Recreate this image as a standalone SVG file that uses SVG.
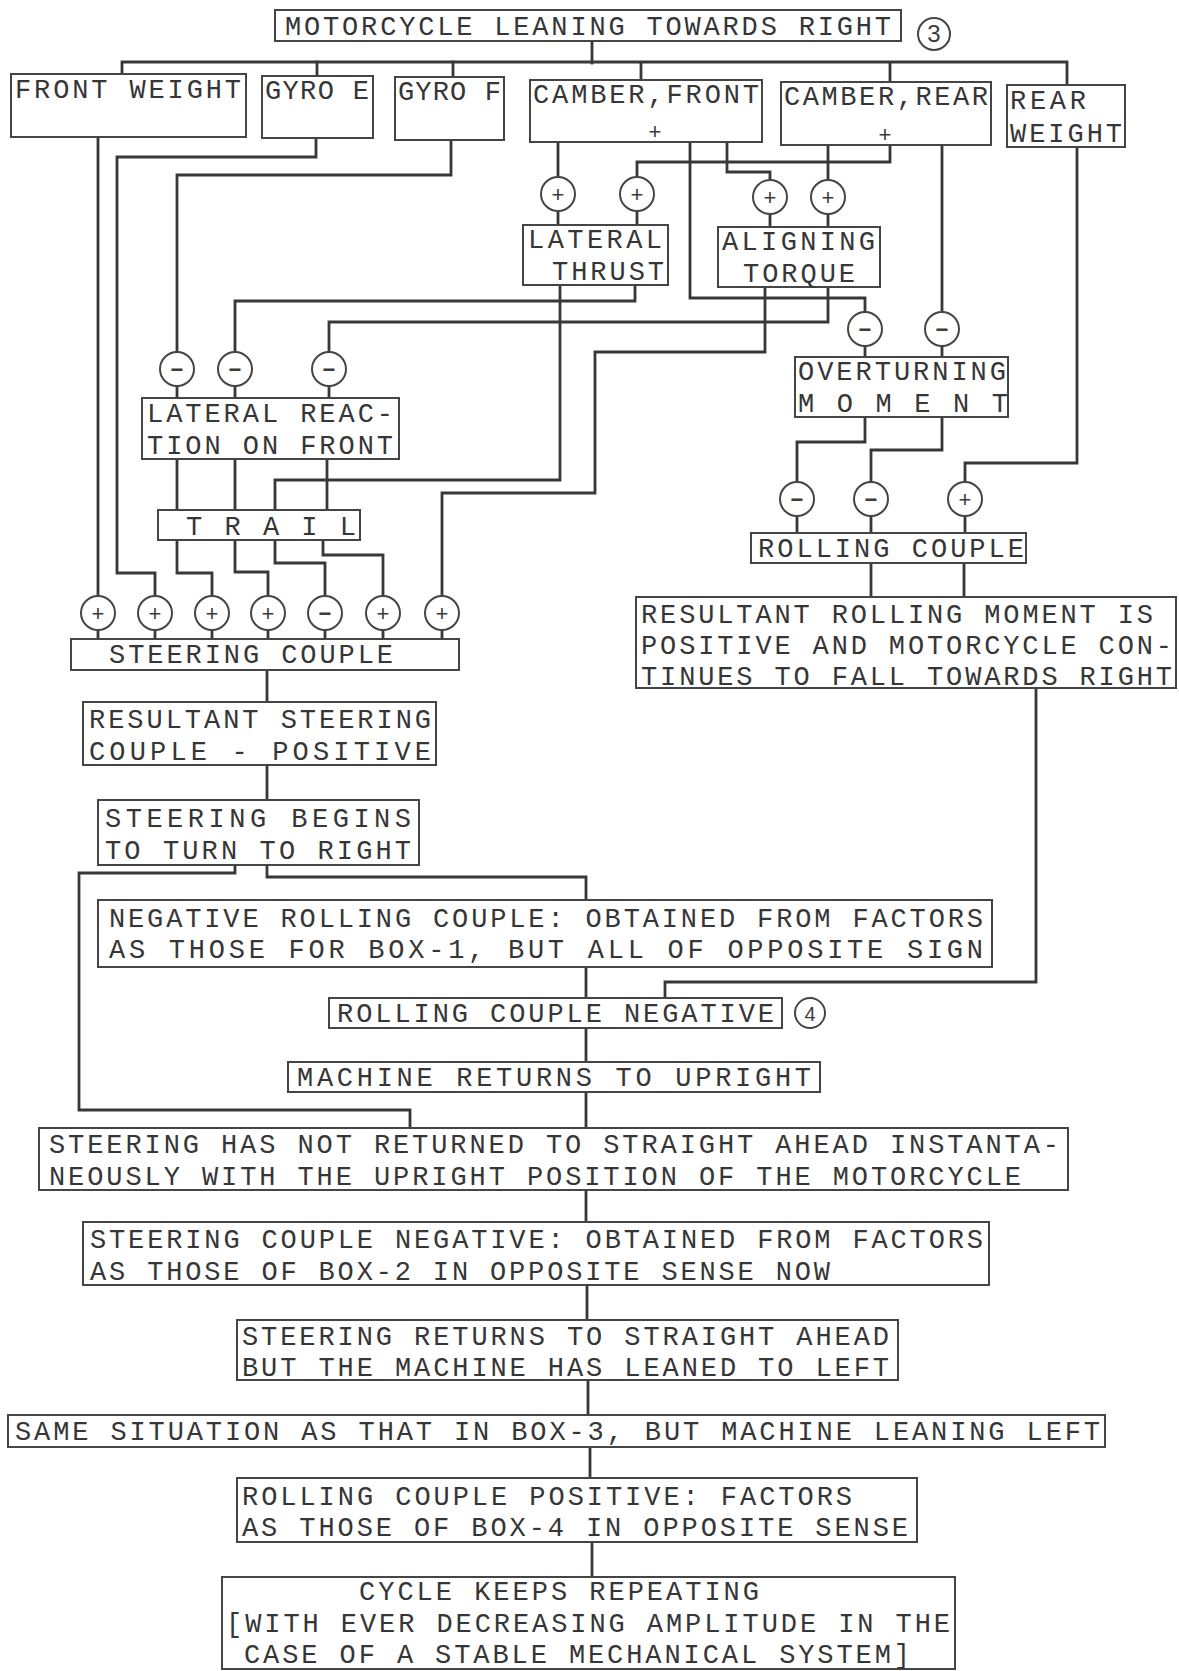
<svg xmlns="http://www.w3.org/2000/svg" width="1179" height="1671" viewBox="0 0 1179 1671">
<style>
.bg{fill:#ffffff}
.b{fill:#ffffff;stroke:#454545;stroke-width:2}
.w{fill:none;stroke:#383838;stroke-width:2.8;stroke-linejoin:miter;stroke-linecap:square}
.t{font-family:"Liberation Mono","DejaVu Sans Mono",monospace;font-size:27px;fill:#363636}
.c{fill:#ffffff;stroke:#454545;stroke-width:2}
.s{font-family:"Liberation Sans","DejaVu Sans",sans-serif;font-size:22px;fill:#3c3c3c;text-anchor:middle}
.m{font-family:"Liberation Sans","DejaVu Sans",sans-serif;font-size:22px;font-weight:bold;fill:#3c3c3c;text-anchor:middle}
.h{font-family:"Liberation Sans","DejaVu Sans",sans-serif;font-size:24px;fill:#3c3c3c;text-anchor:middle}
</style>
<rect class="bg" x="0" y="0" width="1179" height="1671"/>
<g id="connectors">
<path class="w" d="M592,41 V63"/>
<path class="w" d="M122,74 V62 H1067 V85"/>
<path class="w" d="M317,62 V76"/>
<path class="w" d="M453,62 V77"/>
<path class="w" d="M641,63 V80"/>
<path class="w" d="M890,64 V82"/>
<path class="w" d="M98,137 V596"/>
<path class="w" d="M316,138 V157 H117 V573 H155 V596"/>
<path class="w" d="M451,140 V175 H177 V352"/>
<path class="w" d="M558,142 V177"/>
<path class="w" d="M558,211 V225"/>
<path class="w" d="M890,145 V162 H637 V177"/>
<path class="w" d="M637,211 V225"/>
<path class="w" d="M727,142 V172 H770 V180"/>
<path class="w" d="M770,214 V227"/>
<path class="w" d="M828,145 V180"/>
<path class="w" d="M828,214 V227"/>
<path class="w" d="M690,142 V298 H865 V312"/>
<path class="w" d="M942,145 V312"/>
<path class="w" d="M635,285 V301 H235 V352"/>
<path class="w" d="M560,285 V480 H275 V510"/>
<path class="w" d="M828,287 V322 H329 V352"/>
<path class="w" d="M765,287 V352 H595 V493 H442 V596"/>
<path class="w" d="M177,386 V398 M235,386 V398 M329,386 V398"/>
<path class="w" d="M177,459 V510 M235,459 V510 M327,459 V510"/>
<path class="w" d="M177,540 V573 H212 V596"/>
<path class="w" d="M235,540 V572 H268 V596"/>
<path class="w" d="M275,540 V563 H325 V596"/>
<path class="w" d="M323,540 V555 H383 V596"/>
<path class="w" d="M98,630 V639 M155,630 V639 M212,630 V639 M268,630 V639 M325,630 V639 M383,630 V639 M442,630 V639"/>
<path class="w" d="M865,346 V357 M942,346 V357"/>
<path class="w" d="M865,417 V442 H797 V482"/>
<path class="w" d="M942,417 V450 H871 V482"/>
<path class="w" d="M1077,147 V463 H965 V482"/>
<path class="w" d="M797,516 V533 M871,516 V533 M965,516 V533"/>
<path class="w" d="M871,563 V597 M964,563 V597"/>
<path class="w" d="M267,670 V702"/>
<path class="w" d="M267,765 V800"/>
<path class="w" d="M235,865 V873 H79 V1110 H410 V1128"/>
<path class="w" d="M267,865 V877 H586 V900"/>
<path class="w" d="M586,967 V998"/>
<path class="w" d="M1036,688 V982 H665 V998"/>
<path class="w" d="M586,1028 V1062"/>
<path class="w" d="M586,1092 V1128"/>
<path class="w" d="M586,1190 V1222"/>
<path class="w" d="M587,1285 V1320"/>
<path class="w" d="M588,1380 V1415"/>
<path class="w" d="M590,1447 V1478"/>
<path class="w" d="M592,1542 V1577"/>
</g>
<g id="n-title">
<rect class="b" x="275" y="10" width="626" height="31"/>
<text class="t" x="285" y="35" textLength="606" lengthAdjust="spacing">MOTORCYCLE LEANING TOWARDS RIGHT</text>
<circle class="c" cx="934" cy="34" r="16"/>
<text class="h" x="934" y="42">3</text>
</g>
<g id="n-front-weight">
<rect class="b" x="11" y="74" width="235" height="63"/>
<text class="t" x="15" y="98" textLength="226" lengthAdjust="spacing">FRONT WEIGHT</text>
</g>
<g id="n-gyro-e">
<rect class="b" x="262" y="76" width="111" height="62"/>
<text class="t" x="265" y="99" textLength="104" lengthAdjust="spacing">GYRO E</text>
</g>
<g id="n-gyro-f">
<rect class="b" x="395" y="77" width="109" height="63"/>
<text class="t" x="398" y="100" textLength="103" lengthAdjust="spacing">GYRO F</text>
</g>
<g id="n-camber-front">
<rect class="b" x="530" y="80" width="232" height="62"/>
<text class="t" x="533" y="103" textLength="226" lengthAdjust="spacing">CAMBER,FRONT</text>
<text class="s" x="655" y="139">+</text>
</g>
<g id="n-camber-rear">
<rect class="b" x="781" y="82" width="210" height="63"/>
<text class="t" x="784" y="105" textLength="204" lengthAdjust="spacing">CAMBER,REAR</text>
<text class="s" x="885" y="142">+</text>
</g>
<g id="n-rear-weight">
<rect class="b" x="1007" y="85" width="118" height="62"/>
<text class="t" x="1010" y="109" textLength="76" lengthAdjust="spacing">REAR</text>
<text class="t" x="1010" y="142" textLength="112" lengthAdjust="spacing">WEIGHT</text>
</g>
<g id="sum-lt-1"><circle class="c" cx="558" cy="194" r="17"/><text class="s" x="558" y="202">+</text></g>
<g id="sum-lt-2"><circle class="c" cx="637" cy="194" r="17"/><text class="s" x="637" y="202">+</text></g>
<g id="sum-at-1"><circle class="c" cx="770" cy="197" r="17"/><text class="s" x="770" y="205">+</text></g>
<g id="sum-at-2"><circle class="c" cx="828" cy="197" r="17"/><text class="s" x="828" y="205">+</text></g>
<g id="n-lateral-thrust">
<rect class="b" x="523" y="225" width="145" height="60"/>
<text class="t" x="528" y="248" textLength="134" lengthAdjust="spacing">LATERAL</text>
<text class="t" x="552" y="280" textLength="112" lengthAdjust="spacing">THRUST</text>
</g>
<g id="n-aligning-torque">
<rect class="b" x="718" y="227" width="162" height="60"/>
<text class="t" x="722" y="250" textLength="153" lengthAdjust="spacing">ALIGNING</text>
<text class="t" x="743" y="282" textLength="112" lengthAdjust="spacing">TORQUE</text>
</g>
<g id="sum-lr-1"><circle class="c" cx="177" cy="369" r="17"/><text class="m" x="177" y="377">−</text></g>
<g id="sum-lr-2"><circle class="c" cx="235" cy="369" r="17"/><text class="m" x="235" y="377">−</text></g>
<g id="sum-lr-3"><circle class="c" cx="329" cy="369" r="17"/><text class="m" x="329" y="377">−</text></g>
<g id="n-lateral-reaction">
<rect class="b" x="142" y="398" width="257" height="61"/>
<text class="t" x="147" y="422" textLength="246" lengthAdjust="spacing">LATERAL REAC-</text>
<text class="t" x="147" y="454" textLength="246" lengthAdjust="spacing">TION ON FRONT</text>
</g>
<g id="n-trail">
<rect class="b" x="158" y="510" width="202" height="30"/>
<text class="t" x="186" y="535" textLength="170" lengthAdjust="spacing">T R A I L</text>
</g>
<g id="sum-om-1"><circle class="c" cx="865" cy="329" r="17"/><text class="m" x="865" y="337">−</text></g>
<g id="sum-om-2"><circle class="c" cx="942" cy="329" r="17"/><text class="m" x="942" y="337">−</text></g>
<g id="n-overturning-moment">
<rect class="b" x="795" y="357" width="213" height="60"/>
<text class="t" x="798" y="380" textLength="208" lengthAdjust="spacing">OVERTURNING</text>
<text class="t" x="798" y="412" textLength="210" lengthAdjust="spacing">M O M E N T</text>
</g>
<g id="sum-rc-1"><circle class="c" cx="797" cy="499" r="17"/><text class="m" x="797" y="507">−</text></g>
<g id="sum-rc-2"><circle class="c" cx="871" cy="499" r="17"/><text class="m" x="871" y="507">−</text></g>
<g id="sum-rc-3"><circle class="c" cx="965" cy="499" r="17"/><text class="s" x="965" y="507">+</text></g>
<g id="n-rolling-couple">
<rect class="b" x="751" y="533" width="275" height="30"/>
<text class="t" x="758" y="557" textLength="266" lengthAdjust="spacing">ROLLING COUPLE</text>
</g>
<g id="n-resultant-rolling">
<rect class="b" x="636" y="597" width="540" height="91"/>
<text class="t" x="641" y="623" textLength="512" lengthAdjust="spacing">RESULTANT ROLLING MOMENT IS</text>
<text class="t" x="641" y="654" textLength="531" lengthAdjust="spacing">POSITIVE AND MOTORCYCLE CON-</text>
<text class="t" x="641" y="685" textLength="531" lengthAdjust="spacing">TINUES TO FALL TOWARDS RIGHT</text>
</g>
<g id="sum-sc-1"><circle class="c" cx="98" cy="613" r="17"/><text class="s" x="98" y="621">+</text></g>
<g id="sum-sc-2"><circle class="c" cx="155" cy="613" r="17"/><text class="s" x="155" y="621">+</text></g>
<g id="sum-sc-3"><circle class="c" cx="212" cy="613" r="17"/><text class="s" x="212" y="621">+</text></g>
<g id="sum-sc-4"><circle class="c" cx="268" cy="613" r="17"/><text class="s" x="268" y="621">+</text></g>
<g id="sum-sc-5"><circle class="c" cx="325" cy="613" r="17"/><text class="m" x="325" y="621">−</text></g>
<g id="sum-sc-6"><circle class="c" cx="383" cy="613" r="17"/><text class="s" x="383" y="621">+</text></g>
<g id="sum-sc-7"><circle class="c" cx="442" cy="613" r="17"/><text class="s" x="442" y="621">+</text></g>
<g id="n-steering-couple">
<rect class="b" x="71" y="639" width="388" height="31"/>
<text class="t" x="109" y="663" textLength="284" lengthAdjust="spacing">STEERING COUPLE</text>
</g>
<g id="n-resultant-steering">
<rect class="b" x="83" y="702" width="353" height="63"/>
<text class="t" x="89" y="728" textLength="342" lengthAdjust="spacing">RESULTANT STEERING</text>
<text class="t" x="89" y="760" textLength="342" lengthAdjust="spacing">COUPLE -  POSITIVE</text>
</g>
<g id="n-steering-begins">
<rect class="b" x="98" y="800" width="321" height="65"/>
<text class="t" x="105" y="827" textLength="306" lengthAdjust="spacing">STEERING  BEGINS</text>
<text class="t" x="105" y="859" textLength="306" lengthAdjust="spacing">TO TURN TO RIGHT</text>
</g>
<g id="n-negative-rolling">
<rect class="b" x="98" y="900" width="894" height="67"/>
<text class="t" x="109" y="927" textLength="874" lengthAdjust="spacing">NEGATIVE ROLLING COUPLE: OBTAINED FROM FACTORS</text>
<text class="t" x="109" y="958" textLength="874" lengthAdjust="spacing">AS THOSE  FOR  BOX-1, BUT ALL OF OPPOSITE SIGN</text>
</g>
<g id="n-rolling-negative">
<rect class="b" x="329" y="998" width="453" height="30"/>
<text class="t" x="337" y="1022" textLength="437" lengthAdjust="spacing">ROLLING COUPLE NEGATIVE</text>
<circle class="c" cx="810" cy="1013" r="15"/>
<text class="h" x="810" y="1021" style="font-size:20px">4</text>
</g>
<g id="n-machine-returns">
<rect class="b" x="288" y="1062" width="532" height="30"/>
<text class="t" x="297" y="1086" textLength="514" lengthAdjust="spacing">MACHINE RETURNS TO  UPRIGHT</text>
</g>
<g id="n-steering-not-returned">
<rect class="b" x="39" y="1128" width="1029" height="62"/>
<text class="t" x="49" y="1153" textLength="1010" lengthAdjust="spacing">STEERING HAS NOT RETURNED TO STRAIGHT AHEAD INSTANTA-</text>
<text class="t" x="49" y="1185" textLength="972" lengthAdjust="spacing">NEOUSLY WITH THE UPRIGHT POSITION OF THE MOTORCYCLE</text>
</g>
<g id="n-steering-couple-negative">
<rect class="b" x="83" y="1222" width="906" height="63"/>
<text class="t" x="90" y="1248" textLength="893" lengthAdjust="spacing">STEERING COUPLE NEGATIVE: OBTAINED FROM FACTORS</text>
<text class="t" x="90" y="1280" textLength="740" lengthAdjust="spacing">AS THOSE OF BOX-2 IN OPPOSITE SENSE NOW</text>
</g>
<g id="n-steering-returns">
<rect class="b" x="237" y="1320" width="661" height="60"/>
<text class="t" x="242" y="1345" textLength="647" lengthAdjust="spacing">STEERING RETURNS TO STRAIGHT AHEAD</text>
<text class="t" x="242" y="1376" textLength="647" lengthAdjust="spacing">BUT THE MACHINE HAS LEANED TO LEFT</text>
</g>
<g id="n-same-situation">
<rect class="b" x="8" y="1415" width="1097" height="32"/>
<text class="t" x="15" y="1440" textLength="1085" lengthAdjust="spacing">SAME SITUATION AS THAT IN BOX-3, BUT MACHINE LEANING LEFT</text>
</g>
<g id="n-rolling-positive">
<rect class="b" x="237" y="1478" width="680" height="64"/>
<text class="t" x="242" y="1505" textLength="610" lengthAdjust="spacing">ROLLING COUPLE POSITIVE: FACTORS</text>
<text class="t" x="242" y="1536" textLength="666" lengthAdjust="spacing">AS THOSE OF BOX-4 IN OPPOSITE SENSE</text>
</g>
<g id="n-cycle">
<rect class="b" x="222" y="1577" width="733" height="92"/>
<text class="t" x="359" y="1600" textLength="400" lengthAdjust="spacing">CYCLE KEEPS REPEATING</text>
<text class="t" x="226" y="1632" textLength="724" lengthAdjust="spacing">[WITH EVER DECREASING AMPLITUDE IN THE</text>
<text class="t" x="244" y="1663" textLength="666" lengthAdjust="spacing">CASE OF A STABLE MECHANICAL SYSTEM]</text>
</g>
</svg>
